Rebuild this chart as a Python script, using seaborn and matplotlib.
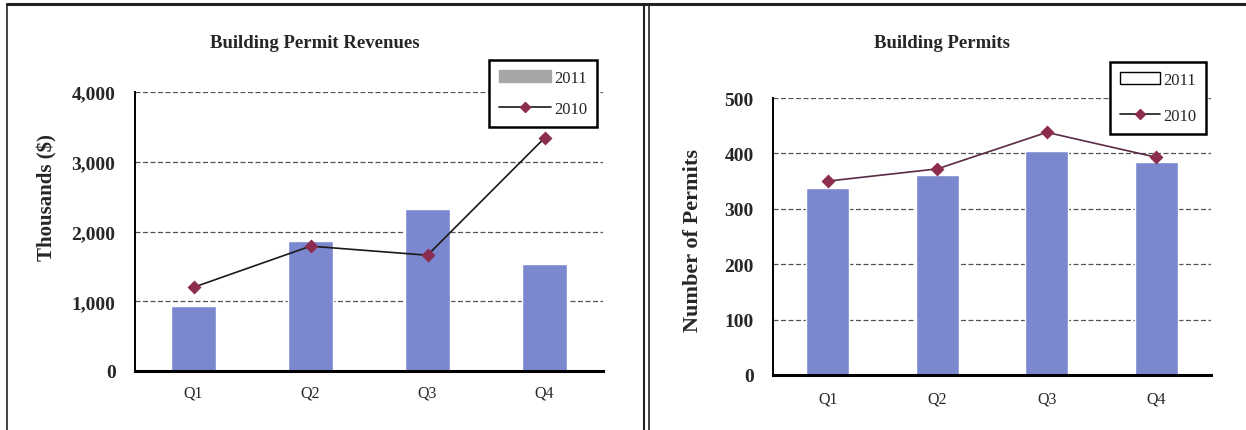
import matplotlib
matplotlib.use("Agg")
import matplotlib.pyplot as plt
from matplotlib.lines import Line2D
from matplotlib.patches import Patch
import seaborn as sns
import pandas as pd

# Quarterly figures
quarters = ["Q1", "Q2", "Q3", "Q4"]
revenue_2011 = [930, 1865, 2320, 1540]
revenue_2010 = [1200, 1790, 1660, 3340]
permits_2011 = [337, 361, 404, 384]
permits_2010 = [350, 372, 438, 393]

revenue_ticks = [0, 1000, 2000, 3000, 4000]
revenue_tick_labels = ["0", "1,000", "2,000", "3,000", "4,000"]
permit_ticks = [0, 100, 200, 300, 400, 500]
permit_tick_labels = ["0", "100", "200", "300", "400", "500"]

revenue_df = pd.DataFrame({"quarter": quarters, "y2011": revenue_2011, "y2010": revenue_2010})
permit_df = pd.DataFrame({"quarter": quarters, "y2011": permits_2011, "y2010": permits_2010})

sns.set_theme(style="white")
plt.rcParams["font.family"] = ["Liberation Serif", "DejaVu Serif"]

BAR = "#7b88cf"
MARKER = "#8c2d4f"

fig = plt.figure(figsize=(12.46, 4.31), dpi=100)
W, H = 1246.0, 431.0


def px_axes(x0, x1, ytop, ybot):
    return fig.add_axes([x0 / W, 1 - ybot / H, (x1 - x0) / W, (ybot - ytop) / H])


ax1 = px_axes(135, 603, 93, 372)
ax2 = px_axes(773, 1211, 99, 376)


def draw_panel(ax, df, ticks, tick_labels, line_color, xpad):
    sns.barplot(data=df, x="quarter", y="y2011", order=quarters, color=BAR,
                saturation=1, width=0.39, ax=ax, zorder=2)
    sns.pointplot(data=df, x="quarter", y="y2010", order=quarters, color=line_color,
                  markers="D", linestyles="-", ax=ax, errorbar=None)
    for ln in ax.lines:
        ln.set_linewidth(1.2)
        ln.set_markersize(5.5)
        ln.set_markerfacecolor(MARKER)
        ln.set_markeredgecolor(MARKER)
        ln.set_zorder(4)
    ax.set_xlim(-0.5, 3.5)
    ax.set_ylim(ticks[0], ticks[-1])
    ax.set_yticks(ticks)
    ax.set_yticklabels(tick_labels, fontsize=14, fontweight="bold")
    ax.set_xticks(range(len(quarters)))
    ax.set_xticklabels(quarters, fontsize=11.5)
    ax.tick_params(axis="y", length=0, pad=14)
    ax.tick_params(axis="x", length=0, pad=xpad)
    ax.set_xlabel("")
    ax.set_ylabel("")
    ax.yaxis.grid(True, linestyle=(0, (4, 2)), color="#555555", linewidth=0.9, zorder=0)
    ax.set_axisbelow(True)
    for side in ("top", "right"):
        ax.spines[side].set_visible(False)
    ax.spines["left"].set_color("black")
    ax.spines["left"].set_linewidth(1.4)
    ax.spines["bottom"].set_color("black")
    ax.spines["bottom"].set_linewidth(2.2)


draw_panel(ax1, revenue_df, revenue_ticks, revenue_tick_labels, "#1a1a1a", 10)
draw_panel(ax2, permit_df, permit_ticks, permit_tick_labels, "#5b2a45", 11.5)

# Titles and axis labels
fig.text(315 / W, 1 - 44 / H, "Building Permit Revenues", ha="center", va="center",
         fontsize=13.5, fontweight="bold")
fig.text(942 / W, 1 - 44 / H, "Building Permits", ha="center", va="center",
         fontsize=13.5, fontweight="bold")
fig.text(47 / W, 1 - 198 / H, "Thousands ($)", rotation=90, ha="center", va="center",
         fontsize=15, fontweight="bold")
fig.text(693 / W, 1 - 241 / H, "Number of Permits", rotation=90, ha="center", va="center",
         fontsize=16, fontweight="bold")


def add_legend(patch, x_left, y_top, spacing, handle_len):
    handles = [patch,
               Line2D([], [], color="#1a1a1a", lw=1.2, marker="D", markersize=5,
                      markerfacecolor=MARKER, markeredgecolor=MARKER)]
    leg = fig.legend(handles, ["2011", "2010"], loc="upper left",
                     bbox_to_anchor=(x_left / W, 1 - y_top / H),
                     fontsize=12, frameon=True, fancybox=False, framealpha=1,
                     edgecolor="black", borderpad=0.6, labelspacing=spacing,
                     handlelength=handle_len, handletextpad=0.2, borderaxespad=0)
    leg.get_frame().set_linewidth(1.8)
    return leg


add_legend(Patch(facecolor="#a6a6a6", edgecolor="#a6a6a6"), 489, 61, 0.9, 3.1)
add_legend(Patch(facecolor="white", edgecolor="black", linewidth=1), 1110, 63, 1.2, 2.4)

# Page frame lines
def frame_line(xs, ys, lw):
    fig.add_artist(Line2D([x / W for x in xs], [1 - y / H for y in ys],
                          color="#222222", linewidth=lw, transform=fig.transFigure))


frame_line([7, W], [5, 5], 2.2)
frame_line([7, 7], [5, H], 1.2)
frame_line([644, 644], [5, H], 1.5)
frame_line([649, 649], [5, H], 1.2)

fig.savefig("out.png", dpi=100, facecolor="white")
